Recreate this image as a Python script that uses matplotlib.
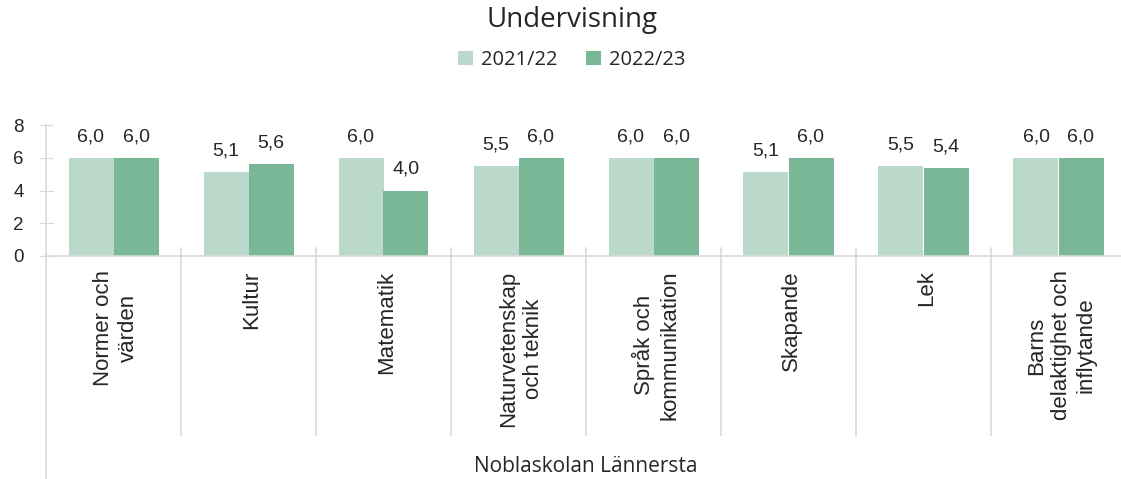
import matplotlib
matplotlib.use("Agg")
import matplotlib.pyplot as plt
import numpy as np
from matplotlib.transforms import blended_transform_factory
from matplotlib.lines import Line2D

categories = ["Normer och\nvärden", "Kultur", "Matematik", "Naturvetenskap\noch teknik",
              "Språk och\nkommunikation", "Skapande", "Lek",
              "Barns\ndelaktighet och\ninflytande"]
series_names = ["2021/22", "2022/23"]
values_2122 = [6.0, 5.1, 6.0, 5.5, 6.0, 5.1, 5.5, 6.0]
values_2223 = [6.0, 5.6, 4.0, 6.0, 6.0, 6.0, 5.4, 6.0]
yticks = [0, 2, 4, 6, 8]
group_label = "Noblaskolan Lännersta"
title = "Undervisning"

light = "#bbd9cb"
dark = "#7ab797"
gray = "#d9d9d9"
txt = "#262626"
arial = ["Liberation Sans", "DejaVu Sans"]
geo = ["Open Sans", "DejaVu Sans"]

W, H = 1121, 479
fig = plt.figure(figsize=(W / 100, H / 100), dpi=100)
ax = fig.add_axes([46 / W, (H - 256) / H, 1080 / W, 131 / H])

x = np.arange(len(categories))
bw = 1 / 3
b1 = ax.bar(x - bw / 2, values_2122, bw, color=light, label=series_names[0])
b2 = ax.bar(x + bw / 2, values_2223, bw, color=dark, label=series_names[1])

for bars in (b1, b2):
    for r in bars:
        ax.annotate(f"{r.get_height():.1f}".replace(".", ","),
                    (r.get_x() + r.get_width() / 2, r.get_height()),
                    xytext=(0, 9), textcoords="offset points",
                    ha="center", va="bottom", fontsize=14, color=txt, family=arial)

ax.set_xlim(-0.5, len(categories) - 0.5)
ax.set_ylim(0, 8)
ax.set_yticks(yticks)
ax.set_yticklabels([str(v) for v in yticks], family=arial, fontsize=13.5, color=txt)
ax.tick_params(axis="y", direction="inout", length=10, color=gray, pad=11)
ax.set_xticks([])
for s in ("top", "right", "left"):
    ax.spines[s].set_visible(False)
ax.spines["bottom"].set_color(gray)
ax.spines["bottom"].set_linewidth(1.2)

tr = blended_transform_factory(ax.transData, ax.transAxes)
# vertical axis line running down through the label area
ax.add_line(Line2D([-0.5, -0.5], [1.0, -1.70], transform=tr, color=gray, lw=1.2, clip_on=False))
for b in np.arange(0.5, len(categories) - 0.5, 1):
    ax.add_line(Line2D([b, b], [0.06, -1.366], transform=tr, color=gray, lw=1.2, clip_on=False))

for i, c in enumerate(categories):
    ax.text(i + 0.02, -0.11, c, transform=tr, rotation=90, ha="center", va="top",
            multialignment="center", fontsize=16, color=txt, family=arial,
            linespacing=1.25)

fig.text(586 / W, 1 - 466 / H, group_label, ha="center", va="center",
         fontsize=15, color=txt, family=geo)
fig.text(572 / W, 1 - 20 / H, title, ha="center", va="center",
         fontsize=20, color=txt, family=geo)
leg = fig.legend(loc="center", bbox_to_anchor=(572 / W, 1 - 60 / H), ncol=2,
                 frameon=False, handlelength=0.75, handleheight=0.75,
                 handletextpad=0.4, columnspacing=1.4,
                 prop={"family": geo, "size": 14.5})
for t in leg.get_texts():
    t.set_color(txt)

fig.savefig("out.png", dpi=100)
